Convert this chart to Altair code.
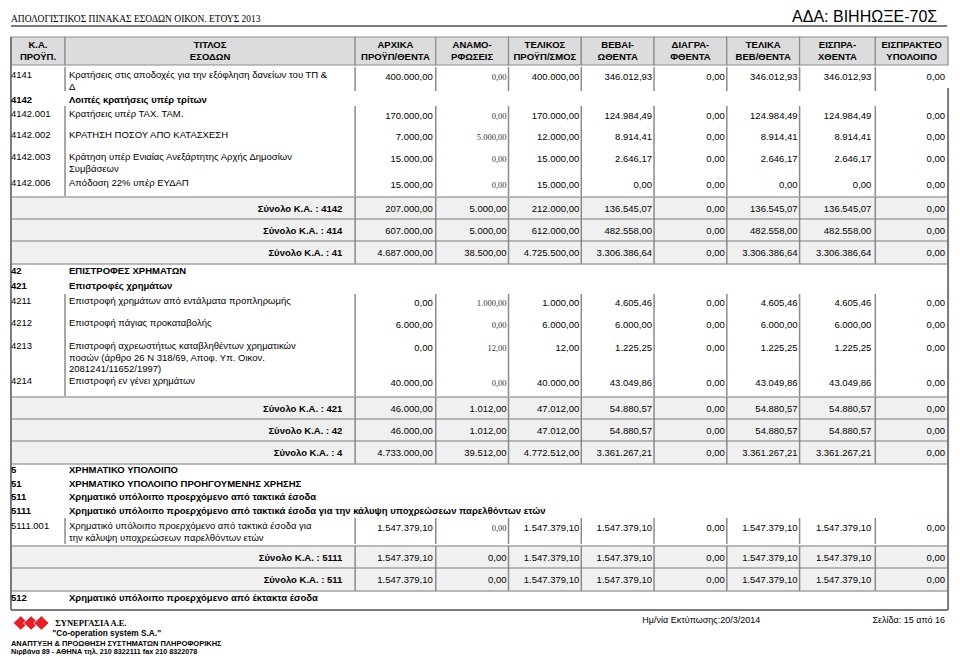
import altair as alt
import pandas as pd

# ------------------------------------------------------------------ data
doc_title = "ΑΠΟΛΟΓΙΣΤΙΚΟΣ ΠΙΝΑΚΑΣ ΕΣΟΔΩΝ ΟΙΚΟΝ. ΕΤΟΥΣ  2013"
ada_text = "ΑΔΑ: ΒΙΗΗΩΞΕ-70Σ"
header_line1 = ["Κ.Α.", "ΤΙΤΛΟΣ", "ΑΡΧΙΚΑ", "ΑΝΑΜΟ-", "ΤΕΛΙΚΟΣ", "ΒΕΒΑΙ-",
                "ΔΙΑΓΡΑ-", "ΤΕΛΙΚΑ", "ΕΙΣΠΡΑ-", "ΕΙΣΠΡΑΚΤΕΟ"]
header_line2 = ["ΠΡΟΫΠ.", "ΕΣΟΔΩΝ", "ΠΡΟΫΠ/ΘΕΝΤΑ", "ΡΦΩΣΕΙΣ", "ΠΡΟΫΠ/ΣΜΟΣ", "ΩΘΕΝΤΑ",
                "ΦΘΕΝΤΑ", "ΒΕΒ/ΘΕΝΤΑ", "ΧΘΕΝΤΑ", "ΥΠΟΛΟΙΠΟ"]

row_kind = ["item", "section", "item", "item", "item", "item", "total", "total", "total",
            "section", "section", "item", "item", "item", "item", "total", "total", "total",
            "section", "section", "section", "section", "item", "total", "total", "section"]
row_code = ["4141", "4142", "4142.001", "4142.002", "4142.003", "4142.006", "4142", "414", "41",
            "42", "421", "4211", "4212", "4213", "4214", "421", "42", "4",
            "5", "51", "511", "5111", "5111.001", "5111", "511", "512"]
row_title = [
    ["Κρατήσεις στις αποδοχές για την εξόφληση δανείων του ΤΠ &", "Δ"],
    ["Λοιπές κρατήσεις υπέρ τρίτων"],
    ["Κρατήσεις υπέρ ΤΑΧ. ΤΑΜ."],
    ["ΚΡΑΤΗΣΗ ΠΟΣΟΥ ΑΠΟ ΚΑΤΑΣΧΕΣΗ"],
    ["Κράτηση υπέρ Ενιαίας Ανεξάρτητης Αρχής Δημοσίων", "Συμβάσεων"],
    ["Απόδοση 22% υπέρ ΕΥΔΑΠ"],
    [], [], [],
    ["ΕΠΙΣΤΡΟΦΕΣ ΧΡΗΜΑΤΩΝ"],
    ["Επιστροφές χρημάτων"],
    ["Επιστροφή χρημάτων από εντάλματα προπληρωμής"],
    ["Επιστροφή πάγιας προκαταβολής"],
    ["Επιστροφή αχρεωστήτως καταβληθέντων χρηματικών",
     "ποσών (άρθρο 26 Ν 318/69, Αποφ. Υπ. Οικον.",
     "2081241/11652/1997)"],
    ["Επιστροφή εν γένει χρημάτων"],
    [], [], [],
    ["ΧΡΗΜΑΤΙΚΟ ΥΠΟΛΟΙΠΟ"],
    ["ΧΡΗΜΑΤΙΚΟ ΥΠΟΛΟΙΠΟ ΠΡΟΗΓΟΥΜΕΝΗΣ ΧΡΗΣΗΣ"],
    ["Χρηματικό υπόλοιπο προερχόμενο από τακτικά έσοδα"],
    ["Χρηματικό υπόλοιπο προερχόμενο από τακτικά έσοδα για την κάλυψη υποχρεώσεων παρελθόντων ετών"],
    ["Χρηματικό υπόλοιπο προερχόμενο από τακτικά έσοδα για",
     "την κάλυψη υποχρεώσεων παρελθόντων ετών"],
    [], [],
    ["Χρηματικό υπόλοιπο προερχόμενο από έκτακτα έσοδα"],
]

N = None
arxika = [400000.00, N, 170000.00, 7000.00, 15000.00, 15000.00, 207000.00, 607000.00, 4687000.00,
          N, N, 0.00, 6000.00, 0.00, 40000.00, 46000.00, 46000.00, 4733000.00,
          N, N, N, N, 1547379.10, 1547379.10, 1547379.10, N]
anamorfoseis = [0.00, N, 0.00, 5000.00, 0.00, 0.00, 5000.00, 5000.00, 38500.00,
                N, N, 1000.00, 0.00, 12.00, 0.00, 1012.00, 1012.00, 39512.00,
                N, N, N, N, 0.00, 0.00, 0.00, N]
telikos = [400000.00, N, 170000.00, 12000.00, 15000.00, 15000.00, 212000.00, 612000.00, 4725500.00,
           N, N, 1000.00, 6000.00, 12.00, 40000.00, 47012.00, 47012.00, 4772512.00,
           N, N, N, N, 1547379.10, 1547379.10, 1547379.10, N]
bebaiothenta = [346012.93, N, 124984.49, 8914.41, 2646.17, 0.00, 136545.07, 482558.00, 3306386.64,
                N, N, 4605.46, 6000.00, 1225.25, 43049.86, 54880.57, 54880.57, 3361267.21,
                N, N, N, N, 1547379.10, 1547379.10, 1547379.10, N]
diagrafenta = [0.00, N, 0.00, 0.00, 0.00, 0.00, 0.00, 0.00, 0.00,
               N, N, 0.00, 0.00, 0.00, 0.00, 0.00, 0.00, 0.00,
               N, N, N, N, 0.00, 0.00, 0.00, N]
telika_beb = [346012.93, N, 124984.49, 8914.41, 2646.17, 0.00, 136545.07, 482558.00, 3306386.64,
              N, N, 4605.46, 6000.00, 1225.25, 43049.86, 54880.57, 54880.57, 3361267.21,
              N, N, N, N, 1547379.10, 1547379.10, 1547379.10, N]
eispraxthenta = [346012.93, N, 124984.49, 8914.41, 2646.17, 0.00, 136545.07, 482558.00, 3306386.64,
                 N, N, 4605.46, 6000.00, 1225.25, 43049.86, 54880.57, 54880.57, 3361267.21,
                 N, N, N, N, 1547379.10, 1547379.10, 1547379.10, N]
eispraktea = [0.00, N, 0.00, 0.00, 0.00, 0.00, 0.00, 0.00, 0.00,
              N, N, 0.00, 0.00, 0.00, 0.00, 0.00, 0.00, 0.00,
              N, N, N, N, 0.00, 0.00, 0.00, N]
value_cols = [arxika, anamorfoseis, telikos, bebaiothenta, diagrafenta,
              telika_beb, eispraxthenta, eispraktea]

print_date = "Ημ/νία  Εκτύπωσης:20/3/2014"
page_text = "Σελίδα: 15 από 16"
company = "ΣΥΝΕΡΓΑΣΙΑ Α.Ε."
company_en = "\"Co-operation system S.A.\""
company_desc = "ΑΝΑΠΤΥΞΗ & ΠΡΟΩΘΗΣΗ ΣΥΣΤΗΜΑΤΩΝ ΠΛΗΡΟΦΟΡΙΚΗΣ"
company_addr = "Νιρβάνα 89 - ΑΘΗΝΑ τηλ. 210 8322111  fax 210 8322078"

# ------------------------------------------------------------------ layout (page pixels)
COL_EDGES = [3, 58, 353, 435, 509, 583, 657, 731, 805, 882, 956]
VAL_RIGHT = [432, 507, 581, 655, 729, 803, 878, 953]
ROW_Y = [75, 100, 114, 135, 157, 183, 209, 231, 253, 271, 286, 301, 323, 346, 381,
         409, 431, 453, 470, 484, 497, 511, 526, 558, 580, 598]
LINE_H = 11.7
BLOCKS = [(67, 91), (106, 196), (294, 396), (518, 544)]
SEP_X = [58, 353, 435, 509, 583, 657, 731, 805, 882]
TOT_SEP_X = [353, 435, 509, 583, 657, 731, 805, 882]
FS = 9.5
SANS = "Liberation Sans"
SERIF = "Liberation Serif"


def gr(v):
    s = f"{v:,.2f}"
    return s.replace(",", "_").replace(".", ",").replace("_", ".")


xs = alt.Scale(domain=[0, 960], nice=False, zero=False)
ys = alt.Scale(domain=[8, 655], nice=False, zero=False, reverse=True)


def X(f):
    return alt.X(f + ":Q", scale=xs, axis=None)


def Y(f):
    return alt.Y(f + ":Q", scale=ys, axis=None)


def X2(f):
    return alt.X2(f + ":Q")


def Y2(f):
    return alt.Y2(f + ":Q")


def text_layer(records, align="left", size=FS, weight="normal", font=SANS, color="#000000"):
    df = pd.DataFrame(records, columns=["x", "y", "t"])
    return alt.Chart(df).mark_text(align=align, baseline="middle", fontSize=size,
                                   fontWeight=weight, font=font, fill=color).encode(
        x=X("x"), y=Y("y"), text="t:N")


def rule_layer(records, color="#808080", width=1.5, dash=None):
    df = pd.DataFrame(records, columns=["x", "x2", "y", "y2"])
    kw = dict(color=color, strokeWidth=width)
    if dash:
        kw["strokeDash"] = dash
    return alt.Chart(df).mark_rule(**kw).encode(x=X("x"), x2=X2("x2"), y=Y("y"), y2=Y2("y2"))


def rect_layer(records, fill, stroke, width=1.0):
    df = pd.DataFrame(records, columns=["x", "x2", "y", "y2"])
    return alt.Chart(df).mark_rect(fill=fill, stroke=stroke, strokeWidth=width).encode(
        x=X("x"), x2=X2("x2"), y=Y("y"), y2=Y2("y2"))


# ------------------------------------------------------------------ build records
header_rects = [(COL_EDGES[i], COL_EDGES[i + 1], 37, 65) for i in range(10)]
header_txt = []
for i in range(10):
    cx = (COL_EDGES[i] + COL_EDGES[i + 1]) / 2
    header_txt.append((cx, 45, header_line1[i]))
    header_txt.append((cx, 57, header_line2[i]))

total_rects, total_seps = [], []
reg_left, bold_left, val_sans, val_serif, tot_labels = [], [], [], [], []
for r, kind in enumerate(row_kind):
    y = ROW_Y[r]
    if kind == "total":
        total_rects.append((3, 956, y - 12, y + 11))
        for sx in TOT_SEP_X:
            total_seps.append((sx, sx, y - 12, y + 11))
        tot_labels.append((340, y, "Σύνολο Κ.Α. : " + row_code[r]))
        for c in range(8):
            val_sans.append((VAL_RIGHT[c], y, gr(value_cols[c][r])))
    elif kind == "section":
        bold_left.append((3, y, row_code[r]))
        bold_left.append((62, y, row_title[r][0]))
    else:
        reg_left.append((3, y, row_code[r]))
        for k, line in enumerate(row_title[r]):
            reg_left.append((62, y + k * LINE_H, line))
        for c in range(8):
            rec = (VAL_RIGHT[c], y + 2, gr(value_cols[c][r]))
            (val_serif if c == 1 else val_sans).append(rec)

block_seps = [(sx, sx, top, bot) for (top, bot) in BLOCKS for sx in SEP_X]

frame_lines = [
    (3, 955, 26, 26),
    (3, 3, 37, 610),
    (956, 956, 88, 610),
    (3, 956, 610, 610),
]

logo_df = pd.DataFrame({"x": [13, 23.5, 34], "y": [623, 623, 623]})
logo = alt.Chart(logo_df).mark_point(
    shape="M-1,0L0,-0.95L1,0L0,0.95Z", filled=True, fill="#e3202a", opacity=1,
    stroke="white", strokeWidth=0.8, size=230).encode(x=X("x"), y=Y("y"))

layers = [
    rect_layer(header_rects, "#dcdcdc", "#8c8c8c", 1.2),
    rect_layer(total_rects, "#f0f0f0", "#a3a3a3", 1.5),
    rule_layer(total_seps, "#8a8a8a", 1.5),
    rule_layer(block_seps, "#8a8a8a", 1.5),
    rule_layer(frame_lines, "#7a7a7a", 2),
    text_layer(header_txt, align="center", size=9.5, weight="bold"),
    text_layer(reg_left),
    text_layer(bold_left, weight="bold"),
    text_layer(val_sans, align="right"),
    text_layer(val_serif, align="right", size=8.5, font=SERIF, color="#333333"),
    text_layer(tot_labels, align="right", weight="bold"),
    text_layer([(3, 19, doc_title)], size=9.5, font=SERIF),
    text_layer([(945, 17, ada_text)], align="right", size=16),
    text_layer([(705, 620, print_date)], align="center", size=9),
    text_layer([(953, 620, page_text)], align="right", size=9),
    logo,
    text_layer([(48, 623, company)], size=8.5, weight="bold", font=SERIF),
    text_layer([(45, 634, company_en)], size=8.3, weight="bold"),
    text_layer([(3, 644, company_desc)], size=7.5, weight="bold"),
    text_layer([(3, 652, company_addr)], size=7.2, weight="bold"),
]

chart = alt.layer(*layers).properties(
    width=944, height=647, padding=0, autosize=alt.AutoSizeParams(type="none"),
    background="white"
).configure_view(stroke=None)

chart.save("out.html", embed_options={"renderer": "svg", "actions": False})
